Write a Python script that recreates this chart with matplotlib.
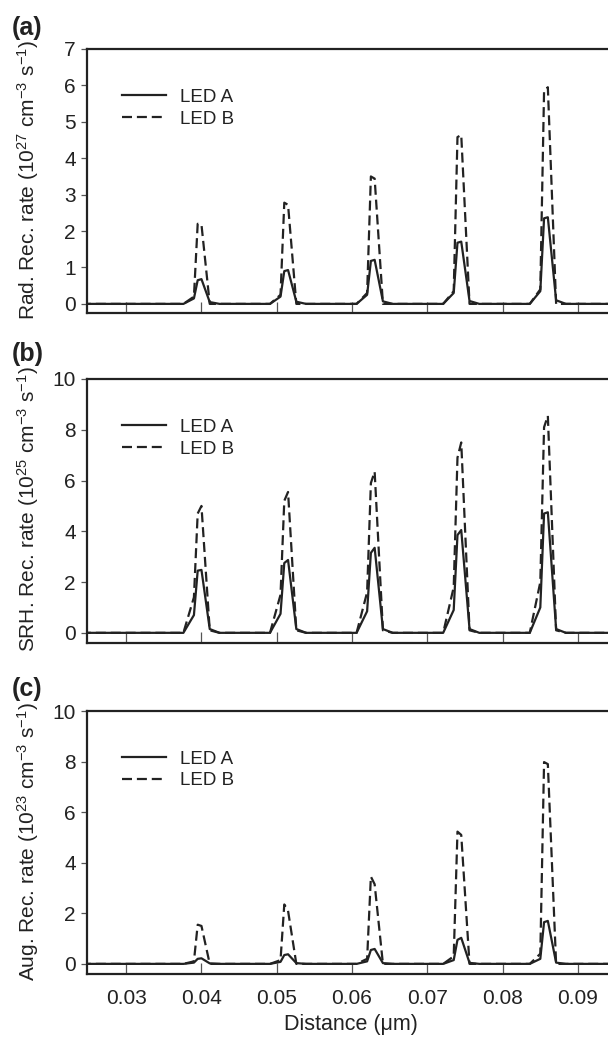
import matplotlib
matplotlib.use("Agg")
import matplotlib.pyplot as plt
from matplotlib.ticker import MultipleLocator, FixedLocator

plt.rcParams['font.family'] = ['Liberation Sans', 'DejaVu Sans']
plt.rcParams['mathtext.fontset'] = 'custom'
plt.rcParams['mathtext.rm'] = 'Liberation Sans'
plt.rcParams['mathtext.it'] = 'Liberation Sans:italic'
plt.rcParams['mathtext.bf'] = 'Liberation Sans:bold'

# ---------------- data ----------------
distance_um = [0.0240,
               0.0376, 0.0390, 0.0395, 0.0400, 0.0411, 0.0424,
               0.0491, 0.0505, 0.0510, 0.0515, 0.0526, 0.0539,
               0.0606, 0.0620, 0.0625, 0.0630, 0.0641, 0.0654,
               0.0721, 0.0735, 0.0740, 0.0745, 0.0756, 0.0769,
               0.0836, 0.0850, 0.0855, 0.0860, 0.0871, 0.0884,
               0.1000]

rad_led_a = [0,
             0, 0.15, 0.65, 0.68, 0.05, 0,
             0, 0.20, 0.90, 0.93, 0.06, 0,
             0, 0.25, 1.18, 1.21, 0.07, 0,
             0, 0.30, 1.68, 1.71, 0.08, 0,
             0, 0.35, 2.35, 2.38, 0.10, 0,
             0]
rad_led_b = [0,
             0, 0.20, 2.20, 2.18, 0, 0,
             0, 0.25, 2.78, 2.72, 0, 0,
             0, 0.30, 3.50, 3.44, 0, 0,
             0, 0.35, 4.58, 4.64, 0, 0,
             0, 0.40, 5.85, 5.95, 0, 0,
             0]

srh_led_a = [0,
             0, 0.70, 2.45, 2.48, 0.15, 0,
             0, 0.75, 2.75, 2.87, 0.15, 0,
             0, 0.85, 3.15, 3.35, 0.15, 0,
             0, 0.90, 3.85, 4.05, 0.15, 0,
             0, 1.00, 4.70, 4.75, 0.15, 0,
             0]
srh_led_b = [0,
             0, 1.40, 4.70, 5.00, 0.10, 0,
             0, 1.50, 5.20, 5.55, 0.10, 0,
             0, 1.60, 5.90, 6.35, 0.10, 0,
             0, 1.80, 6.90, 7.50, 0.10, 0,
             0, 2.00, 8.10, 8.55, 0.10, 0,
             0]

aug_led_a = [0,
             0, 0.05, 0.20, 0.22, 0.02, 0,
             0, 0.08, 0.35, 0.38, 0.03, 0,
             0, 0.10, 0.55, 0.59, 0.03, 0,
             0, 0.15, 0.95, 1.03, 0.04, 0,
             0, 0.20, 1.65, 1.70, 0.05, 0,
             0]
aug_led_b = [0,
             0, 0.10, 1.55, 1.50, 0, 0,
             0, 0.15, 2.35, 2.10, 0, 0,
             0, 0.20, 3.45, 3.15, 0, 0,
             0, 0.30, 5.23, 5.10, 0, 0,
             0, 0.40, 7.98, 7.90, 0, 0,
             0]

x_ticks = [0.03, 0.04, 0.05, 0.06, 0.07, 0.08, 0.09]
x_tick_labels = ['0.03', '0.04', '0.05', '0.06', '0.07', '0.08', '0.09']
series_labels = ['LED A', 'LED B']
panel_tags = ['(a)', '(b)', '(c)']
y_labels = [r'Rad. Rec. rate (10$^{27}$ cm$^{-3}$ s$^{-1}$)',
            r'SRH. Rec. rate (10$^{25}$ cm$^{-3}$ s$^{-1}$)',
            r'Aug. Rec. rate (10$^{23}$ cm$^{-3}$ s$^{-1}$)']
x_label = 'Distance (\u03bcm)'

# ---------------- figure ----------------
W, H = 608, 1041
fig = plt.figure(figsize=(W / 100, H / 100), dpi=100)

ink = '#222222'
xmin, xmax = 0.0248, 0.0950
left_px = 87
width_px = (xmax - xmin) * 7530
panels = [
    dict(top=49, bottom=313, ylim=(-0.25, 7), ystep=1, a=rad_led_a, b=rad_led_b, tag_y=16),
    dict(top=379, bottom=643, ylim=(-0.4, 10), ystep=2, a=srh_led_a, b=srh_led_b, tag_y=342),
    dict(top=711, bottom=974, ylim=(-0.4, 10), ystep=2, a=aug_led_a, b=aug_led_b, tag_y=677),
]

for i, p in enumerate(panels):
    ax = fig.add_axes([left_px / W, 1 - p['bottom'] / H, width_px / W,
                       (p['bottom'] - p['top']) / H])
    ax.plot(distance_um, p['a'], color=ink, lw=1.6, label=series_labels[0])
    ax.plot(distance_um, p['b'], color=ink, lw=1.6, dashes=(4.5, 2.2),
            label=series_labels[1])
    ax.set_xlim(xmin, xmax)
    ax.set_ylim(*p['ylim'])
    ax.yaxis.set_major_locator(MultipleLocator(p['ystep']))
    ax.xaxis.set_major_locator(FixedLocator(x_ticks))
    for s in ax.spines.values():
        s.set_linewidth(1.6)
        s.set_color(ink)
    ax.tick_params(axis='y', direction='out', length=4, width=0.9,
                   colors='#555555', labelcolor=ink, labelsize=15, pad=4)
    ax.tick_params(axis='x', direction='in', length=8, width=0.9,
                   colors='#555555', labelcolor=ink, labelsize=15, pad=11)
    if i == 2:
        ax.set_xticklabels(x_tick_labels)
        ax.set_xlabel(x_label, fontsize=15.5, color=ink, labelpad=4)
    else:
        ax.set_xticklabels([])
    ax.set_ylabel(y_labels[i], fontsize=15, color=ink)
    ax.yaxis.set_label_coords(-0.087, 0.505)
    leg = ax.legend(loc='upper left', bbox_to_anchor=(0.067, 0.85),
                    frameon=False, fontsize=13.5, handlelength=2.3,
                    handletextpad=0.75, labelspacing=0.25, borderpad=0,
                    borderaxespad=0)
    for t in leg.get_texts():
        t.set_color(ink)
    fig.text(12 / W, 1 - p['tag_y'] / H, panel_tags[i], ha='left', va='top',
             fontsize=18, fontweight='bold', color=ink)

fig.savefig('out.png', dpi=100)
